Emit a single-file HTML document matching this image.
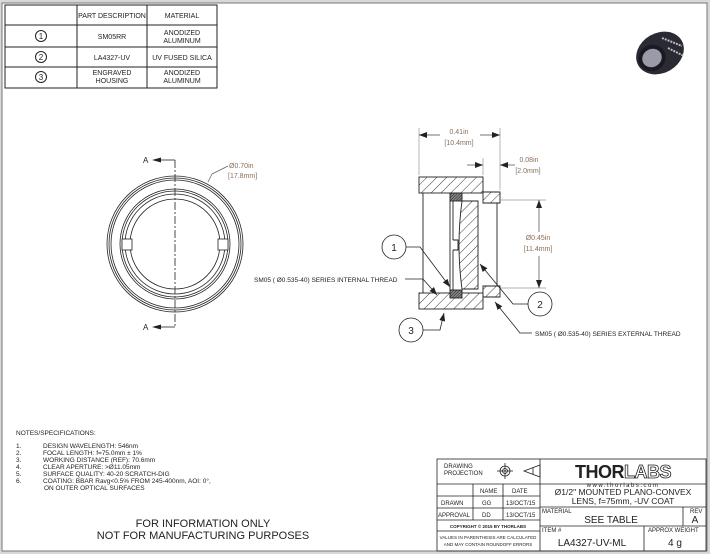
<!DOCTYPE html>
<html><head><meta charset="utf-8"><style>
html,body{margin:0;padding:0;background:#fff}
svg{display:block}
text{font-family:"Liberation Sans",sans-serif}
</style></head><body>
<svg width="710" height="554" viewBox="0 0 710 554" xmlns="http://www.w3.org/2000/svg">
<defs>
<pattern id="h" width="7" height="7" patternUnits="userSpaceOnUse" patternTransform="rotate(45)">
<rect width="7" height="7" fill="#fff"/><line x1="0" y1="0" x2="0" y2="7" stroke="#222" stroke-width="0.9"/></pattern>
<pattern id="hd" width="2" height="2" patternUnits="userSpaceOnUse" patternTransform="rotate(45)">
<rect width="2" height="2" fill="#888"/><line x1="0" y1="0" x2="0" y2="2" stroke="#222" stroke-width="1"/></pattern>
<marker id="ar" markerWidth="8" markerHeight="6" refX="8" refY="3" orient="auto" markerUnits="userSpaceOnUse"><path d="M0,0 L8,3 L0,6z" fill="#222"/></marker>
</defs>
<rect x="0" y="0" width="710" height="554" fill="#d8d8d8"/>
<rect x="2" y="3" width="705" height="548" fill="#fff" stroke="#777" stroke-width="1"/>

<!-- parts table -->
<g stroke="#222" stroke-width="1" fill="none">
<rect x="5" y="5" width="212" height="83"/>
<line x1="5" y1="25" x2="217" y2="25"/><line x1="5" y1="47" x2="217" y2="47"/><line x1="5" y1="67" x2="217" y2="67"/>
<line x1="77" y1="5" x2="77" y2="88"/><line x1="147" y1="5" x2="147" y2="88"/>
<circle cx="41" cy="36" r="5.5"/><circle cx="41" cy="57" r="5.5"/><circle cx="41" cy="77" r="5.5"/>
</g>
<g font-size="7" fill="#222" text-anchor="middle">
<text x="112" y="18">PART DESCRIPTION</text><text x="182" y="18">MATERIAL</text>
<text x="41" y="39" font-size="8">1</text><text x="41" y="60" font-size="8">2</text><text x="41" y="80" font-size="8">3</text>
<text x="112" y="39">SM05RR</text><text x="182" y="35">ANODIZED</text><text x="182" y="43">ALUMINUM</text>
<text x="112" y="60">LA4327-UV</text><text x="182" y="60">UV FUSED SILICA</text>
<text x="112" y="75">ENGRAVED</text><text x="112" y="83">HOUSING</text><text x="182" y="75">ANODIZED</text><text x="182" y="83">ALUMINUM</text>
</g>

<!-- photo -->
<g>
<ellipse cx="660" cy="53" rx="25" ry="20" fill="#2a2a35" transform="rotate(-30 660 53)"/>
<ellipse cx="652" cy="58" rx="14" ry="13" fill="#1a1a22" transform="rotate(-30 652 58)"/>
<ellipse cx="652" cy="58" rx="10" ry="9" fill="#9a9aa8" transform="rotate(-30 652 58)"/>
<path d="M662 38 L682 46" stroke="#bbb" stroke-width="2" stroke-dasharray="2 1"/>
<path d="M668 48 L684 56" stroke="#bbb" stroke-width="2" stroke-dasharray="2 1"/>
</g>

<!-- front view -->
<g stroke="#222" stroke-width="0.8" fill="none">
<circle cx="175" cy="244" r="68"/><circle cx="175" cy="244" r="66"/><circle cx="175" cy="244" r="64"/>
<circle cx="175" cy="244" r="55"/><circle cx="175" cy="244" r="53"/><circle cx="175" cy="244" r="50"/><circle cx="175" cy="244" r="45"/>
<rect x="122" y="239" width="10" height="11" fill="#fff"/><rect x="218" y="239" width="10" height="11" fill="#fff"/>
<line x1="175" y1="160" x2="175" y2="328" stroke-dasharray="8 2 2 2"/>
<line x1="160" y1="160" x2="175" y2="160"/><line x1="160" y1="327" x2="175" y2="327"/>
<line x1="212" y1="174" x2="208" y2="182" stroke="#666"/><line x1="212" y1="174" x2="228" y2="166" stroke="#666"/>
</g>
<path d="M152 160 l9 -2.5 v5z M152 327 l9 -2.5 v5z" fill="#222"/>
<text x="143" y="163" font-size="8" fill="#222">A</text><text x="143" y="330" font-size="8" fill="#222">A</text>
<text x="229" y="168" font-size="7" fill="#8a6e5a">Ø0.70in</text><text x="228" y="178" font-size="7" fill="#8a6e5a">[17.8mm]</text>

<!-- section view -->
<g stroke="#222" stroke-width="0.9">
<rect x="419" y="177" width="64" height="16" fill="url(#h)"/>
<rect x="419" y="293" width="64" height="16" fill="url(#h)"/>
<path d="M483 192 L500 192 L500 203 L483 203z" fill="url(#h)"/>
<path d="M483 286 L500 286 L500 297 L483 297z" fill="url(#h)"/>
<path d="M462 201 Q456 245 462 289 L478 289 L478 201z" fill="url(#h)"/>
<rect x="450" y="193" width="12" height="8" fill="url(#hd)"/>
<rect x="450" y="290" width="12" height="8" fill="url(#hd)"/>
<line x1="450" y1="201" x2="450" y2="290"/><line x1="453" y1="201" x2="453" y2="240"/><line x1="453" y1="250" x2="453" y2="290"/>
<path d="M453 240 h5 v10 h-5" fill="none"/>
<line x1="423" y1="193" x2="423" y2="293"/>
<line x1="497" y1="203" x2="497" y2="286"/>
</g>
<g stroke="#999" stroke-width="0.7" fill="none">
<line x1="419" y1="128" x2="419" y2="175"/><line x1="500" y1="128" x2="500" y2="190"/>
<line x1="483" y1="158" x2="483" y2="175"/>
<line x1="500" y1="200" x2="546" y2="200"/><line x1="500" y1="288" x2="546" y2="288"/>
</g>
<g stroke="#444" stroke-width="0.7" fill="none">
<line x1="440" y1="135" x2="419" y2="135" marker-end="url(#ar)"/><line x1="480" y1="135" x2="500" y2="135" marker-end="url(#ar)"/>
<line x1="467" y1="165" x2="483" y2="165" marker-end="url(#ar)"/><line x1="515" y1="165" x2="500" y2="165" marker-end="url(#ar)"/>
<line x1="539" y1="232" x2="539" y2="200" marker-end="url(#ar)"/><line x1="539" y1="256" x2="539" y2="288" marker-end="url(#ar)"/>
</g>
<g font-size="7" fill="#8a6e5a" text-anchor="middle">
<text x="459" y="134">0.41in</text><text x="459" y="145">[10.4mm]</text>
<text x="529" y="162">0.08in</text><text x="528" y="173">[2.0mm]</text>
<text x="538" y="240">Ø0.45in</text><text x="538" y="251">[11.4mm]</text>
</g>

<!-- balloons & leaders -->
<g stroke="#222" stroke-width="0.8" fill="none">
<circle cx="394" cy="247" r="12" fill="#fff"/><circle cx="540" cy="304" r="12" fill="#fff"/><circle cx="411" cy="330" r="12" fill="#fff"/>
<polyline points="406,247 420,247 450,287" marker-end="url(#ar)"/>
<polyline points="528,304 513,304 480,264" marker-end="url(#ar)"/>
<polyline points="423,330 440,330 444,313" marker-end="url(#ar)"/>
<polyline points="405,279 423,279 437,295" marker-end="url(#ar)"/>
<polyline points="532,333 520,333 495,302" marker-end="url(#ar)"/>
</g>
<g font-size="10" fill="#222" text-anchor="middle">
<text x="394" y="251">1</text><text x="540" y="308">2</text><text x="411" y="334">3</text>
</g>
<text x="254" y="282" font-size="6.5" fill="#222">SM05 ( Ø0.535-40) SERIES INTERNAL THREAD</text>
<text x="535" y="336" font-size="6.5" fill="#222">SM05 ( Ø0.535-40) SERIES EXTERNAL THREAD</text>

<!-- notes -->
<g font-size="6.5" fill="#222">
<text x="16" y="435">NOTES/SPECIFICATIONS:</text>
<text x="16" y="448">1.</text><text x="43" y="448">DESIGN WAVELENGTH: 546nm</text>
<text x="16" y="455">2.</text><text x="43" y="455">FOCAL LENGTH: f=75.0mm ± 1%</text>
<text x="16" y="462">3.</text><text x="43" y="462">WORKING DISTANCE (REF): 70.6mm</text>
<text x="16" y="469">4.</text><text x="43" y="469">CLEAR APERTURE: &gt;Ø11.05mm</text>
<text x="16" y="476">5.</text><text x="43" y="476">SURFACE QUALITY: 40-20 SCRATCH-DIG</text>
<text x="16" y="483">6.</text><text x="43" y="483">COATING: BBAR Ravg&lt;0.5% FROM 245-400nm, AOI: 0°,</text>
<text x="44" y="490">ON OUTER OPTICAL SURFACES</text>
</g>
<g font-size="11" fill="#222" text-anchor="middle">
<text x="203" y="527">FOR INFORMATION ONLY</text><text x="203" y="539">NOT FOR MANUFACTURING PURPOSES</text>
</g>

<!-- title block -->
<g stroke="#222" stroke-width="0.8" fill="none">
<rect x="437" y="459" width="269" height="92"/>
<line x1="540" y1="459" x2="540" y2="551"/>
<line x1="437" y1="484" x2="706" y2="484"/>
<line x1="437" y1="496" x2="540" y2="496"/><line x1="437" y1="508" x2="540" y2="508"/><line x1="437" y1="520" x2="540" y2="520"/><line x1="437" y1="531" x2="540" y2="531"/>
<line x1="473" y1="484" x2="473" y2="520"/><line x1="503" y1="484" x2="503" y2="520"/>
<line x1="540" y1="507" x2="706" y2="507"/><line x1="540" y1="526" x2="706" y2="526"/>
<line x1="683" y1="507" x2="683" y2="526"/><line x1="644" y1="526" x2="644" y2="551"/>
<circle cx="505" cy="471" r="5"/><circle cx="505" cy="471" r="2.5"/><line x1="497" y1="471" x2="513" y2="471"/><line x1="505" y1="463" x2="505" y2="479"/>
<path d="M524 471 L540 465 L540 477z M533 468 v6"/>
</g>
<g font-size="6" fill="#222">
<text x="444" y="468">DRAWING</text><text x="444" y="475">PROJECTION</text>
<text x="480" y="493">NAME</text><text x="512" y="493">DATE</text>
<text x="441" y="505">DRAWN</text><text x="482" y="505">GG</text><text x="506" y="505">13/OCT/15</text>
<text x="438" y="517">APPROVAL</text><text x="482" y="517">DD</text><text x="506" y="517">13/OCT/15</text>
<text x="488" y="528" font-size="4.5" text-anchor="middle" font-weight="bold">COPYRIGHT © 2015 BY THORLABS</text>
<text x="488" y="539" font-size="4.5" text-anchor="middle">VALUES IN PARENTHESIS ARE CALCULATED</text>
<text x="488" y="546" font-size="4.5" text-anchor="middle">AND MAY CONTAIN ROUNDOFF ERRORS</text>
<text x="542" y="513">MATERIAL</text><text x="690" y="513">REV</text>
<text x="542" y="532">ITEM #</text><text x="648" y="532">APPROX WEIGHT</text>
</g>
<text x="623" y="478" font-size="18" font-weight="bold" fill="#222" text-anchor="middle" font-family="Liberation Sans" letter-spacing="-0.5">THOR<tspan fill="#fff" stroke="#222" stroke-width="0.8">LABS</tspan></text>
<text x="623" y="487" font-size="6" fill="#222" text-anchor="middle" letter-spacing="1.5">www.thorlabs.com</text>
<g font-size="8.5" fill="#222" text-anchor="middle">
<text x="623" y="495">Ø1/2" MOUNTED PLANO-CONVEX</text><text x="623" y="504">LENS, f=75mm, -UV COAT</text>
<text x="611" y="523" font-size="10">SEE TABLE</text><text x="695" y="523" font-size="10">A</text>
<text x="592" y="546" font-size="10">LA4327-UV-ML</text><text x="675" y="546" font-size="10">4 g</text>
</g>
</svg>
</body></html>
